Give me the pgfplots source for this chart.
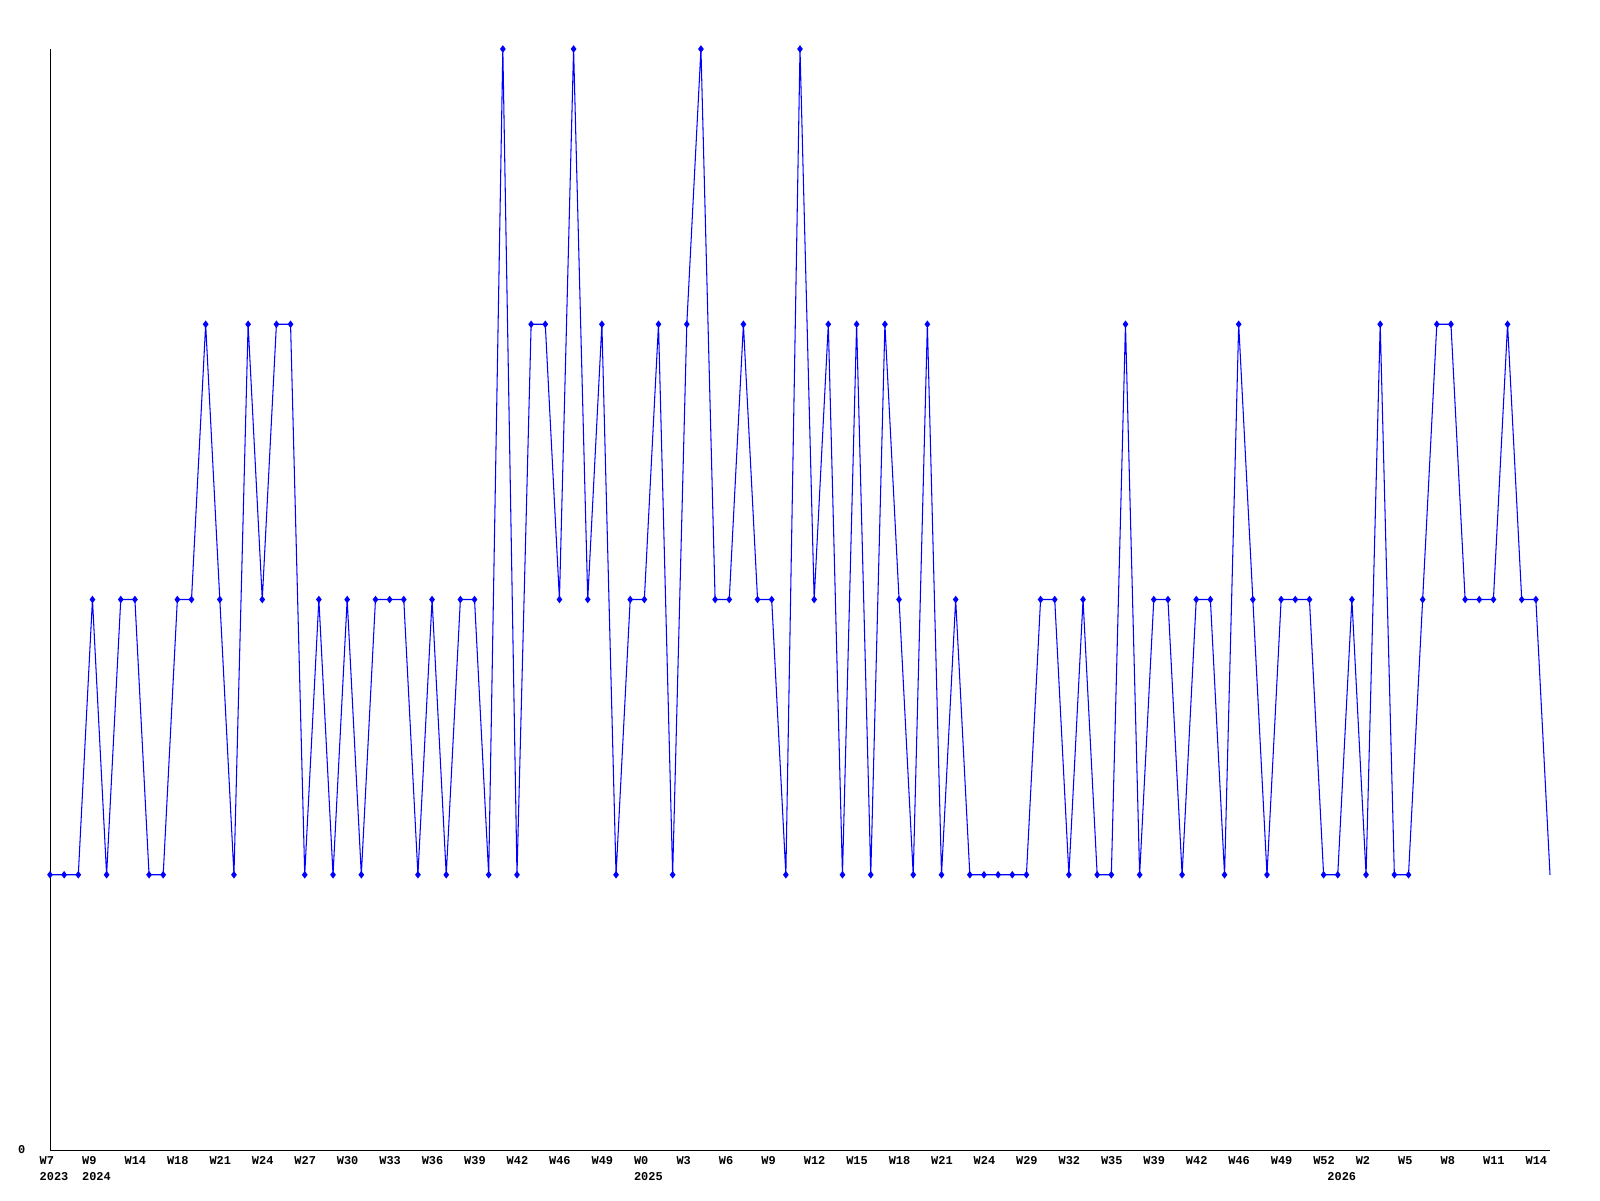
\documentclass[border=0pt]{standalone}
\usepackage{fontspec}
\setmonofont{Liberation Mono}
\usepackage{pgfplots}
\usepackage{pgfplotstable}
\pgfplotsset{compat=1.18}
\definecolor{LineBlue}{RGB}{0,0,255}

% weekly counts, index 1..107
\pgfplotstableread{
i v
1 1
2 1
3 1
4 2
5 1
6 2
7 2
8 1
9 1
10 2
11 2
12 3
13 2
14 1
15 3
16 2
17 3
18 3
19 1
20 2
21 1
22 2
23 1
24 2
25 2
26 2
27 1
28 2
29 1
30 2
31 2
32 1
33 4
34 1
35 3
36 3
37 2
38 4
39 2
40 3
41 1
42 2
43 2
44 3
45 1
46 3
47 4
48 2
49 2
50 3
51 2
52 2
53 1
54 4
55 2
56 3
57 1
58 3
59 1
60 3
61 2
62 1
63 3
64 1
65 2
66 1
67 1
68 1
69 1
70 1
71 2
72 2
73 1
74 2
75 1
76 1
77 3
78 1
79 2
80 2
81 1
82 2
83 2
84 1
85 3
86 2
87 1
88 2
89 2
90 2
91 1
92 1
93 2
94 1
95 3
96 1
97 1
98 2
99 3
100 3
101 2
102 2
103 2
104 3
105 2
106 2
107 1
}\weekly

\newcommand{\lblfont}{\fontsize{3.4}{4.5}\selectfont\ttfamily\bfseries}

\begin{document}
\begin{tikzpicture}
\path[use as bounding box] (0,0) rectangle (16cm,12cm);
\begin{axis}[
  at={(0.5cm,0.5cm)}, anchor=south west,
  scale only axis,
  width=15cm, height=11.01cm,
  xmin=1, xmax=107, ymin=0, ymax=4,
  axis lines*=left,
  axis line style={black, line width=0.28pt},
  clip=false,
  major tick length=0pt,
  xtick={1,4,...,106},
  xticklabels={W7,W9,W14,W18,W21,W24,W27,W30,W33,W36,W39,W42,W46,W49,W0,W3,W6,W9,W12,W15,W18,W21,W24,W29,W32,W35,W39,W42,W46,W49,W52,W2,W5,W8,W11,W14},
  xticklabel style={font=\lblfont, anchor=north west, inner sep=0pt, xshift=-0.11cm, yshift=-0.06cm},
  ytick={0}, yticklabels={0},
  yticklabel style={font=\lblfont, anchor=east, inner sep=0pt, xshift=-0.24cm},
]
% line through all weeks
\addplot[color=LineBlue, line width=0.3pt, no marks] table[x=i, y=v] {\weekly};
% point marks (none on the last week)
\addplot[color=LineBlue, only marks, mark=diamond*, mark size=0.75pt,
  mark options={solid, fill=LineBlue}, restrict x to domain=1:106] table[x=i, y=v] {\weekly};
\foreach \xx/\yy in {1/2023, 4/2024, 43/2025, 92/2026}{
  \edef\tmp{\noexpand\node[font=\noexpand\lblfont, anchor=north west, inner sep=0pt, xshift=-0.11cm, yshift=-0.22cm] at (axis cs:\xx,0) {\yy};}
  \tmp
}
\end{axis}
\end{tikzpicture}
\end{document}
